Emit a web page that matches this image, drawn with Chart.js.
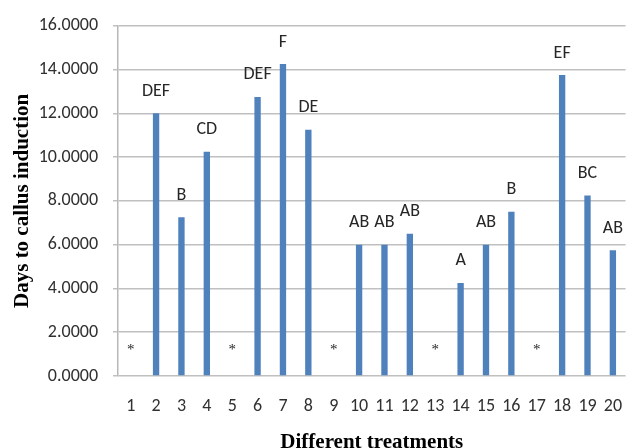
<!DOCTYPE html>
<html>
<head>
<meta charset="utf-8">
<script src="https://cdn.jsdelivr.net/npm/chart.js@4"></script>
<style>
  html, body { margin: 0; padding: 0; background: #fff; }
  #wrap { width: 642px; height: 448px; }
</style>
</head>
<body>
<div id="wrap"><canvas id="callusChart"></canvas></div>
<script>
// Data
const treatments = ['1', '2', '3', '4', '5', '6', '7', '8', '9', '10',
                    '11', '12', '13', '14', '15', '16', '17', '18', '19', '20'];
const daysToCallus = [0, 12.0, 7.25, 10.25, 0, 12.75, 14.25, 11.25, 0, 6.0,
                      6.0, 6.5, 0, 4.25, 6.0, 7.5, 0, 13.75, 8.25, 5.75];
const groupLetters = ['*', 'DEF', 'B', 'CD', '*', 'DEF', 'F', 'DE', '*', 'AB',
                      'AB', 'AB', '*', 'A', 'AB', 'B', '*', 'EF', 'BC', 'AB'];
const yTicks = [0, 2, 4, 6, 8, 10, 12, 14, 16];

const sansFont = 'Carlito, "Open Sans", sans-serif';
const serifFont = '"Liberation Serif", "Times New Roman", serif';

// letters above bars, asterisk for treatments without callus
const letterPlugin = {
    id: 'letterPlugin',
    afterDatasetsDraw(chart) {
        const ctx = chart.ctx;
        const meta = chart.getDatasetMeta(0);
        const yScale = chart.scales.y;
        ctx.save();
        ctx.fillStyle = '#262626';
        ctx.textAlign = 'center';
        ctx.textBaseline = 'middle';
        meta.data.forEach((bar, i) => {
            const txt = groupLetters[i];
            if (txt === '*') {
                ctx.font = '15px ' + serifFont;
                ctx.fillText(txt, bar.x, yScale.getPixelForValue(1.2));
            } else {
                ctx.font = '18px ' + sansFont;
                ctx.fillText(txt, bar.x, bar.y - 22);
            }
        });
        ctx.restore();
    }
};

new Chart(document.getElementById('callusChart'), {
    type: 'bar',
    data: {
        labels: treatments,
        datasets: [{
            label: 'Days to callus induction',
            data: daysToCallus,
            backgroundColor: '#4f81bd',
            borderWidth: 0,
            categoryPercentage: 1.0,
            barPercentage: 0.25
        }]
    },
    options: {
        responsive: true,
        maintainAspectRatio: false,
        animation: false,
        layout: { padding: { top: 20, right: 0, left: 0, bottom: 0 } },
        plugins: {
            legend: { display: false },
            tooltip: { enabled: false }
        },
        scales: {
            x: {
                grid: { display: false, drawTicks: false },
                border: { display: false },
                ticks: {
                    color: '#303030',
                    font: { family: sansFont, size: 18 },
                    padding: 20,
                    maxRotation: 0,
                    autoSkip: false
                },
                title: {
                    display: true,
                    text: 'Different treatments',
                    color: '#000',
                    font: { family: serifFont, size: 21, weight: 'bold' },
                    padding: { top: 0, bottom: -7 }
                },
                afterFit(scale) { scale.height = 72; }
            },
            y: {
                min: 0,
                max: 16,
                afterBuildTicks(scale) {
                    scale.ticks = yTicks.map(v => ({ value: v }));
                },
                grid: { color: '#c0c0c0', lineWidth: 1.5, tickLength: 5 },
                border: { display: true, color: '#b8b8b8', width: 1.5 },
                ticks: {
                    color: '#303030',
                    font: { family: sansFont, size: 18 },
                    padding: 15,
                    callback: v => Number(v).toFixed(4)
                },
                title: {
                    display: true,
                    text: 'Days to callus induction',
                    color: '#000',
                    font: { family: serifFont, size: 21, weight: 'bold' },
                    padding: { top: 10, bottom: 0 }
                },
                afterFit(scale) { scale.width = 118; }
            }
        }
    },
    plugins: [letterPlugin]
});
</script>
</body>
</html>
